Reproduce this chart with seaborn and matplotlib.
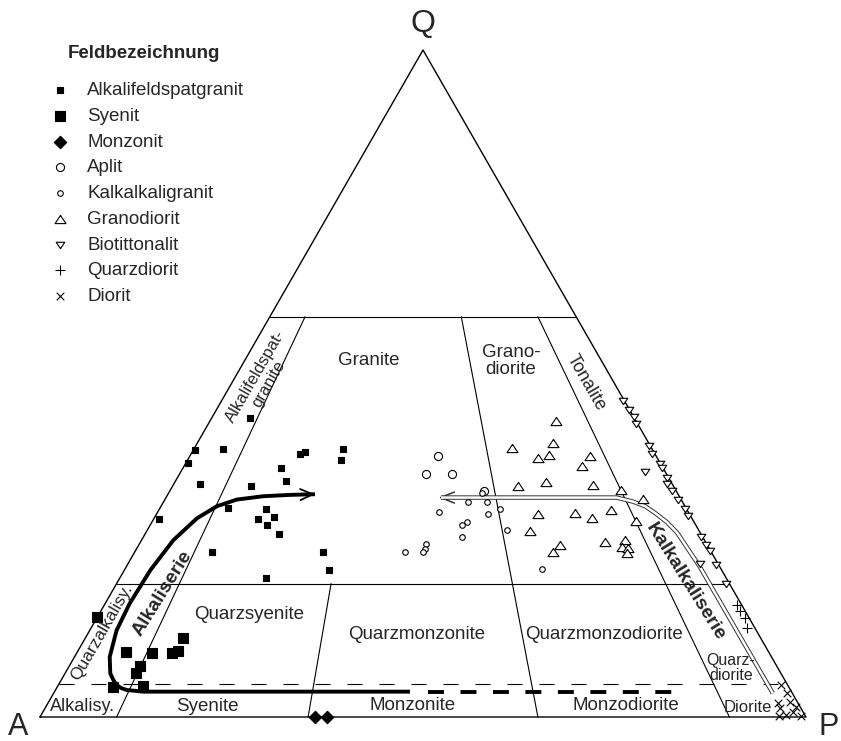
import numpy as np
import matplotlib
matplotlib.use("Agg")
import matplotlib.pyplot as plt
import seaborn as sns

# Modalwerte: Q und P in %, A = 100 - Q - P
afg_q = [44.9, 40.0, 40.2, 38.1, 34.9, 34.7, 37.4, 35.4, 39.5, 39.7, 40.2, 38.5,
         29.7, 31.4, 31.2, 29.7, 30.0, 28.8, 27.4, 24.8, 24.7, 22.0, 20.9]
afg_p = [5.0, 0.3, 3.8, 0.3, 3.4, 10.2, 12.8, 14.4, 14.2, 14.8, 19.5, 20.1,
         0.7, 8.8, 13.9, 13.6, 15.5, 15.2, 17.5, 10.0, 24.6, 26.7, 19.0]

sy_q = [15.0, 9.8, 9.6, 9.6, 9.9, 11.8, 7.6, 6.6, 4.5, 4.6]
sy_p = [0.0, 6.3, 9.8, 12.4, 13.1, 12.8, 9.3, 9.2, 7.3, 11.2]

mz_q = [0.0, 0.0]
mz_p = [35.9, 37.5]

ap_q = [39.1, 36.4, 36.5, 33.9]
ap_p = [32.4, 32.2, 35.6, 41.0]

kg_q = [33.6, 32.2, 32.2, 30.8, 31.2, 30.4, 29.2, 28.8, 28.1, 27.0, 26.0, 25.2, 24.7, 24.8, 22.2]
kg_p = [40.9, 39.8, 42.3, 36.7, 44.5, 43.3, 41.1, 40.7, 46.9, 41.6, 37.4, 37.6, 37.6, 35.2, 54.5]

gd_q = [44.4, 41.1, 40.3, 38.9, 39.3, 39.2, 37.6, 34.7, 35.2, 34.8, 34.0, 32.7, 30.5,
        30.6, 29.8, 31.0, 29.4, 27.9, 25.8, 24.7, 26.2, 26.6, 25.5, 25.4, 24.6]
gd_p = [45.1, 46.4, 41.5, 45.6, 46.8, 52.2, 52.0, 45.1, 48.4, 54.8, 58.8, 62.4, 49.8,
        54.6, 57.1, 59.1, 63.1, 50.0, 55.0, 54.6, 60.6, 63.1, 63.2, 64.0, 64.3]

bt_q = [47.4, 46.0, 45.0, 43.9, 40.7, 39.4, 37.9, 37.3, 35.8, 34.9, 33.9, 32.5,
        31.2, 30.1, 27.0, 25.8, 24.9, 22.8, 22.9, 19.9, 36.8]
bt_p = [52.4, 53.9, 55.0, 55.8, 59.1, 60.2, 62.0, 62.5, 63.9, 64.4, 65.6, 67.0,
        68.6, 69.6, 72.8, 74.1, 75.0, 76.9, 74.7, 79.6, 60.6]

qd_q = [16.8, 15.9, 14.9, 13.3]
qd_p = [82.6, 83.4, 84.6, 85.6]

di_q = [4.8, 3.6, 2.1, 2.3, 1.5, 1.3, 0.8, 0.3, 0.15, 0.15]
di_p = [94.4, 95.7, 95.3, 96.8, 97.9, 96.0, 97.9, 97.3, 99.3, 96.4]

# Entwicklungstrends (Q, P in %)
alk_q = [33.4, 33.3, 33.1, 32.6, 31.6, 29.8, 26.5, 22.0, 17.0, 13.0, 9.0, 6.55, 5.55,
         4.8, 4.35, 4.05, 3.8, 3.8, 3.8]
alk_p = [19.2, 16.0, 12.6, 9.4, 7.3, 5.6, 4.15, 3.4, 3.2, 3.5, 4.6, 5.9, 6.8,
         7.6, 8.4, 9.3, 11.6, 15.5, 46.4]
alk_dash_q = [3.8, 3.8]
alk_dash_p = [48.8, 80.6]

kalk_q = [32.9, 32.9, 32.3, 31.6, 30.5, 29.2, 27.6, 22.5, 3.55]
kalk_p = [35.6, 58.8, 61.25, 63.2, 65.15, 67.25, 69.4, 74.9, 93.9]


def tern(q, p):
    # Q-A-P -> kartesisch (x = P + Q/2, y = Q)
    q = np.asarray(q, dtype=float)
    p = np.asarray(p, dtype=float)
    return p + q / 2, q


sns.set_style("white")
plt.rcParams['font.family'] = ['Liberation Sans', 'DejaVu Sans']

fig = plt.figure(figsize=(8.41, 7.41), dpi=100)
ax = fig.add_axes([0, 0, 1, 1])
ax.set_xlim(-40 / 7.66, 801 / 7.66)
ax.set_ylim(-24 / 6.67, 717 / 6.67)
ax.axis('off')

# Dreieck
tx, ty = tern([0, 0, 100, 0], [0, 100, 0, 0])
ax.plot(tx, ty, color='black', lw=1.0, zorder=1)

# Feldgrenzen
for q, pmax in [(60, 40), (20, 80)]:
    x, y = tern([q, q], [0, pmax])
    ax.plot(x, y, color='black', lw=0.8, zorder=1)
x, y = tern([5, 5], [0, 95])
ax.plot(x, y, color='black', lw=0.8, ls=(0, (13.5, 15.3)), zorder=1)

for r_bot, r_top, q_top in [(0.10, 0.115, 60), (0.35, 0.35, 20), (0.65, 0.625, 60), (0.90, 0.875, 60)]:
    x, y = tern([0, q_top], [100 * r_bot, (100 - q_top) * r_top])
    ax.plot(x, y, color='black', lw=0.8, zorder=1)

# Alkaliserie
x, y = tern(alk_q, alk_p)
ax.plot(x, y, color='black', lw=2.8, solid_capstyle='butt', solid_joinstyle='round', zorder=2)
x, y = tern(alk_dash_q, alk_dash_p)
ax.plot(x, y, color='black', lw=2.8, ls=(0, (4.1, 4.25)), dash_capstyle='butt', zorder=2)
ax.annotate('', xy=tern(alk_q[0], alk_p[0]), xytext=tern(alk_q[1], alk_p[1]),
            arrowprops=dict(arrowstyle='->,head_length=0.45,head_width=0.2', lw=1.3,
                            color='black', mutation_scale=20, shrinkA=0, shrinkB=0), zorder=2)

# Kalkalkaliserie (Doppellinie)
ax.annotate('', xy=tern(kalk_q[0], kalk_p[0]), xytext=tern(kalk_q[0], kalk_p[0] + 2),
            arrowprops=dict(arrowstyle='->,head_length=0.5,head_width=0.2', lw=1.0,
                            color='#222222', mutation_scale=20, shrinkA=0, shrinkB=0), zorder=2)
kx, ky = tern(kalk_q, kalk_p)
kx = kx.copy()
kx[0] += 0.3
ax.plot(kx, ky, color='#333333', lw=3.2, solid_capstyle='butt', solid_joinstyle='round', zorder=2.1)
ax.plot(kx, ky, color='white', lw=1.8, solid_capstyle='butt', solid_joinstyle='round', zorder=2.2)

# Probenpunkte
groups = [
    ("Alkalifeldspatgranit", afg_q, afg_p, 's', 25, 'black'),
    ("Syenit", sy_q, sy_p, 's', 48, 'black'),
    ("Monzonit", mz_q, mz_p, 'D', 40, 'black'),
    ("Aplit", ap_q, ap_p, 'o', 34, 'white'),
    ("Kalkalkaligranit", kg_q, kg_p, 'o', 16, 'white'),
    ("Granodiorit", gd_q, gd_p, [(0, 0.75), (-1, -0.75), (1, -0.75), (0, 0.75)], 62, 'white'),
    ("Biotittonalit", bt_q, bt_p, [(0, -0.75), (-1, 0.75), (1, 0.75), (0, -0.75)], 38, 'white'),
    ("Quarzdiorit", qd_q, qd_p, '+', 50, None),
    ("Diorit", di_q, di_p, 'x', 30, None),
]
for label, q, p, marker, size, face in groups:
    x, y = tern(q, p)
    kw = dict(x=x, y=y, marker=marker, s=size, color='black', ax=ax, label=label,
              linewidth=0.8, zorder=3)
    if face is not None:
        kw['facecolor'] = face
        kw['edgecolor'] = 'black'
    sns.scatterplot(**kw)

# Beschriftungen
labels = [
    ("Granite", 53.4, 16.25, 0, 13.5, 'normal'),
    ("Grano-\ndiorite", 53.4, 34.8, 0, 13.5, 'normal'),
    ("Tonalite", 50.1, 46.3, -60, 13, 'normal'),
    ("Alkalifeldspat-\ngranite", 50.5, 3.7, 60, 12, 'normal'),
    ("Quarzalkalisy.", 12.7, 1.75, 60, 12.5, 'normal'),
    ("Alkaliserie", 18.6, 6.7, 58, 14, 'bold'),
    ("Quarzsyenite", 15.3, 19.6, 0, 13.5, 'normal'),
    ("Quarzmonzonite", 12.4, 43.0, 0, 13.5, 'normal'),
    ("Quarzmonzodiorite", 12.4, 67.4, 0, 13.5, 'normal'),
    ("Quarz-\ndiorite", 7.4, 86.5, 0, 11.5, 'normal'),
    ("Alkalisy.", 1.6, 4.7, 0, 13, 'normal'),
    ("Syenite", 1.6, 21.1, 0, 13.5, 'normal'),
    ("Monzonite", 1.65, 47.8, 0, 13.5, 'normal'),
    ("Monzodiorite", 1.65, 75.7, 0, 13.5, 'normal'),
    ("Diorite", 1.4, 91.7, 0, 12, 'normal'),
    ("Kalkalkaliserie", 20.2, 74.2, -58, 14, 'bold'),
]
for s, q, p, rot, fs, fw in labels:
    x, y = tern(q, p)
    ax.text(x, y, s, ha='center', va='center', rotation=rot, fontsize=fs,
            fontweight=fw, linespacing=1.0, zorder=4)

ax.text(50, 103.9, "Q", ha='center', va='center', fontsize=23)
ax.text(-2.87, -1.5, "A", ha='center', va='center', fontsize=22)
ax.text(102.9, -1.5, "P", ha='center', va='center', fontsize=22)

# Legende
fig.text(68 / 841, 1 - 54 / 741, "Feldbezeichnung", fontsize=13.5, fontweight='bold', va='center')
ax.legend(loc='upper left', bbox_to_anchor=(50.6 / 841, 1 - 82 / 741),
          bbox_transform=fig.transFigure, frameon=False, fontsize=13.5,
          handlelength=1.0, handletextpad=0.96, labelspacing=0.46,
          borderpad=0, borderaxespad=0, scatterpoints=1)

fig.savefig("out.png", dpi=100, facecolor='white')
